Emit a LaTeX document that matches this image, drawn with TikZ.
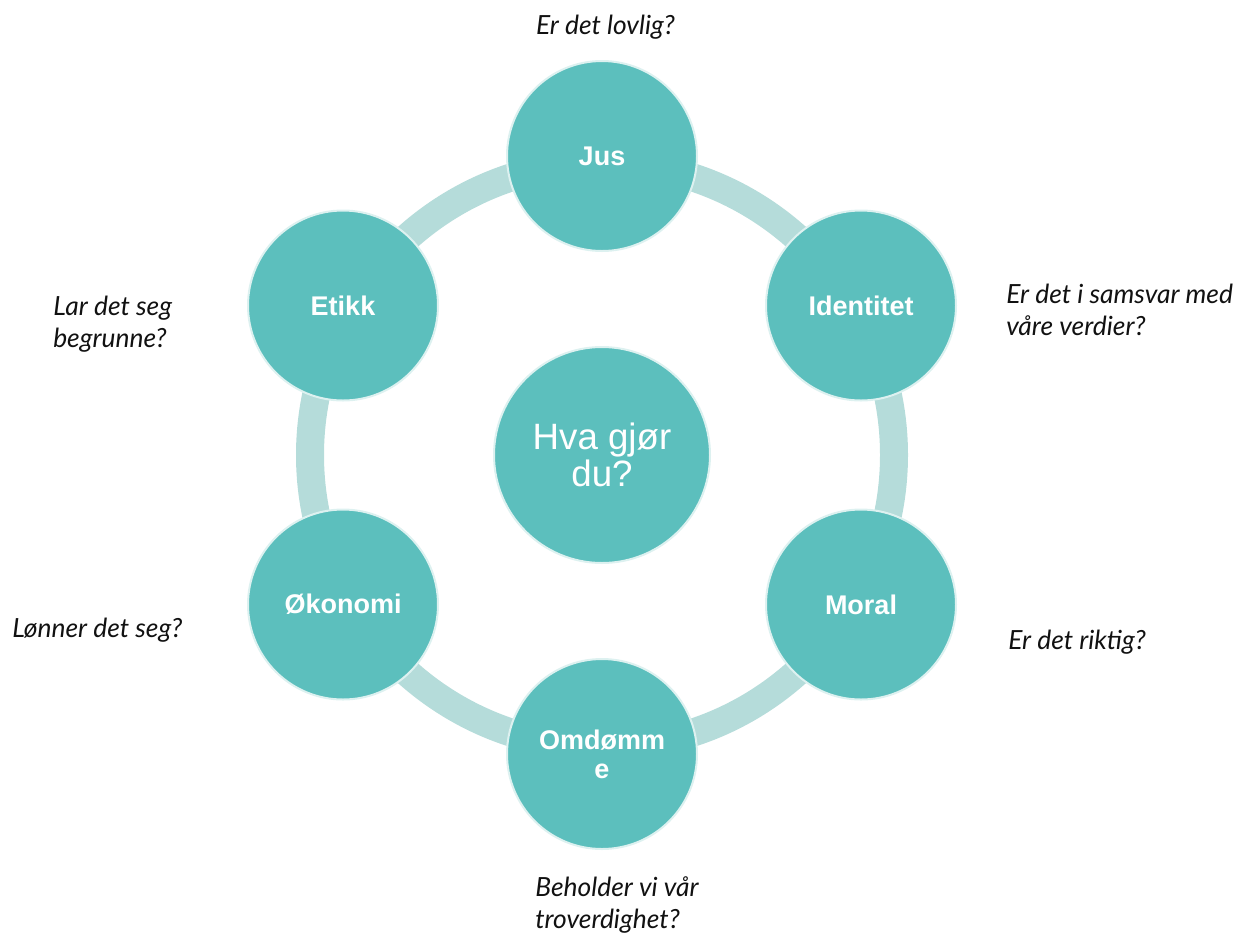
\documentclass[tikz,border=0pt]{standalone}
\usepackage{fontspec}
\setmainfont{Liberation Sans}
\newfontfamily\labelfont{Lato}
\definecolor{teal1}{HTML}{5CBFBD}
\definecolor{ringc}{HTML}{B5DCDA}
\definecolor{edgec}{HTML}{DDF1F0}
\definecolor{txt}{HTML}{111111}
\begin{document}
\begin{tikzpicture}[x=0.75pt,y=-0.75pt,
  bubble/.style={circle,fill=teal1,draw=edgec,line width=1.5pt,minimum size=142.5pt,inner sep=0pt,
    text=white,font=\fontsize{20.25}{21.75}\selectfont\bfseries,align=center},
  hub/.style={circle,fill=teal1,draw=edgec,line width=1.5pt,minimum size=162pt,inner sep=0pt,
    text=white,font=\fontsize{27.5}{27.5}\selectfont,align=center},
  q/.style={text=txt,font=\labelfont\itshape\fontsize{19.8}{24}\selectfont,inner sep=0pt}]
\useasboundingbox (0,0) rectangle (1260,936);
\coordinate (c) at (602,455);
\draw[ringc,line width=21pt] (c) circle[radius=292];
\node[hub] (hub) at (c) {Hva gjør\\du?};
\node[bubble] (jus) at (602,156) {Jus};
\node[bubble] (ident) at (861,305.5) {Identitet};
\node[bubble] (moral) at (861,604.5) {Moral};
\node[bubble] (omd) at (602,754) {Omdømm\\e};
\node[bubble] (okon) at (343,604.5) {Økonomi};
\node[bubble] (etikk) at (343,305.5) {Etikk};
\node[q,anchor=base] (q1) at (605.5,34) {Er det lovlig?};
\node[q,anchor=base west,align=left] (q2) at (1006,335) {Er det i samsvar med\\våre verdier?};
\node[q,anchor=base west] (q3) at (1008,649) {Er det riktig?};
\node[q,anchor=base west,align=left] (q4) at (535,928) {Beholder vi vår\\troverdighet?};
\node[q,anchor=base west] (q5) at (12,637) {Lønner det seg?};
\node[q,anchor=base west,align=left] (q6) at (53,347) {Lar det seg\\begrunne?};
\end{tikzpicture}
\end{document}
